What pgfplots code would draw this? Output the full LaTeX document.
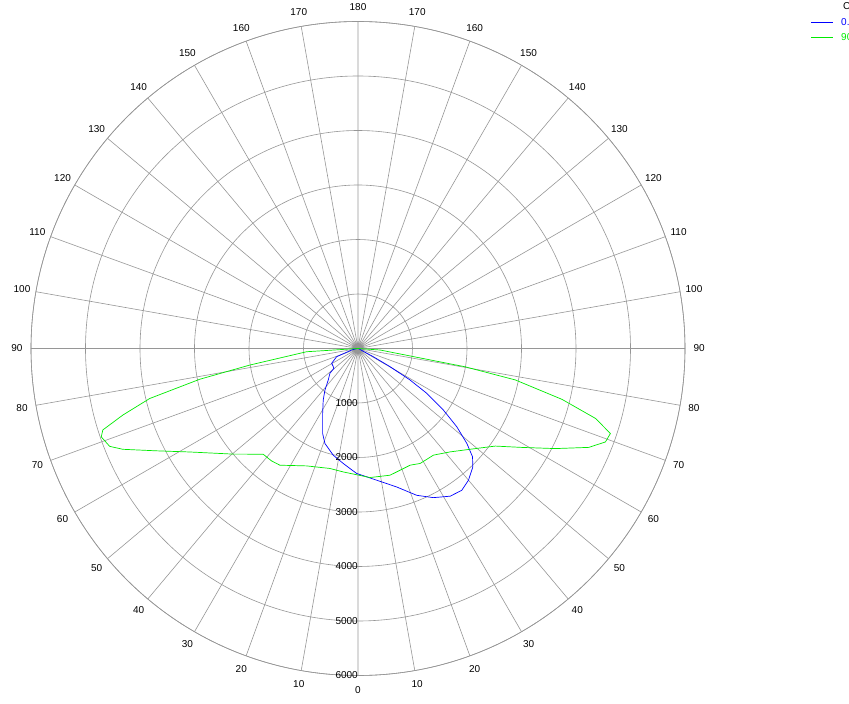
\documentclass[border=0pt]{standalone}
\usepackage{fontspec}
\setmainfont{Liberation Sans}
\usepackage{pgfplots}
\pgfplotsset{compat=1.18}
\usepgfplotslibrary{polar}
\usepackage{pgfplotstable}
\definecolor{gridgray}{RGB}{150,150,150}
\definecolor{cblue}{RGB}{0,0,255}
\definecolor{cgreen}{RGB}{0,235,0}

% signed gamma: negative = left half, positive = right half
\pgfplotstableread{
g r
-90 0
-82 40
-76.6 119
-69 420
-60.6 555
-55 560
-50.5 572
-48.5 688
-43.3 796
-38.5 974
-34 1141
-28.6 1356
-22.6 1689
-19.2 1845
-13.1 2009
-7.3 2127
-0.6 2294
8.1 2441
15.6 2638
21.8 2901
26.8 3066
32 3195
36.2 3224
40 3154
44.1 3027
46.6 2893
48.9 2651
51.6 2314
54.2 1933
56.9 1507
58.8 1117
60.4 677
61.8 319
62 114
70 20
90 0
}\blueC

\pgfplotstableread{
g r
-90 0
-86.4 945
-81.3 2008
-79 2959
-76.5 3931
-74.2 4483
-72.3 4915
-71 4982
-68.5 4898
-66.8 4695
-63.1 4150
-58.4 3624
-49.8 3002
-41.9 2606
-37.6 2602
-33.8 2577
-23.6 2351
-13.2 2261
-6.8 2281
5.3 2378
14.2 2398
19.1 2363
24.1 2345
28.4 2398
35.3 2397
41.7 2541
50 2851
54.6 3091
58.9 3514
63.1 4059
66.8 4606
69.3 4853
71.4 4887
73.6 4541
76 3858
78.7 2943
80.3 1995
81.3 1185
86.1 405
90 0
}\greenC

\begin{document}
\begin{tikzpicture}[x=1pt,y=1pt]
\useasboundingbox (0,0) rectangle (849,704);
\begin{polaraxis}[
  at={(358pt,355.5pt)}, anchor=center,
  scale only axis, width=654pt, height=654pt,
  xmin=0, xmax=360, ymin=0, ymax=6000,
  xtick={0,10,...,350}, ytick={1000,2000,...,6000},
  xticklabel={\hbox{}}, yticklabel={\hbox{}},
  major tick length=0pt,
  grid=major,
  major grid style={gridgray, line width=0.6pt},
  axis line style={gridgray, line width=0.6pt},
  clip=false,
  font=\fontsize{10}{12}\selectfont,
]
\addplot[draw=cblue, line width=0.7pt] table[x expr=\thisrow{g}+270, y=r] {\blueC};
\addplot[draw=cgreen, line width=0.7pt] table[x expr=\thisrow{g}+270, y=r] {\greenC};
\pgfplotsinvokeforeach{0,10,...,350}{
  \node[inner sep=0pt, font=\fontsize{10}{12}\selectfont] at (axis cs:#1,6260)
    {\pgfmathtruncatemacro{\gam}{180-abs(mod(#1+90,360)-180)}\gam};
}
\pgfplotsinvokeforeach{1000,2000,...,6000}{
  \node[inner sep=0pt, anchor=east, font=\fontsize{10}{12}\selectfont] at (axis cs:270,#1) {#1};
}
\end{polaraxis}
% legend (partly outside the picture, as in the reference)
\node[anchor=west, inner sep=0pt, font=\fontsize{10}{12}\selectfont] at (843,697.5) {C-planes};
\draw[cblue, line width=0.8pt] (811,682) -- (833,682);
\node[anchor=west, inner sep=0pt, text=cblue, font=\fontsize{10}{12}\selectfont] at (841,682) {0.0 - 180.0};
\draw[cgreen, line width=1pt] (811,666.5) -- (833,666.5);
\node[anchor=west, inner sep=0pt, text=cgreen, font=\fontsize{10}{12}\selectfont] at (841,666.5) {90.0 - 270.0};
\end{tikzpicture}
\end{document}
